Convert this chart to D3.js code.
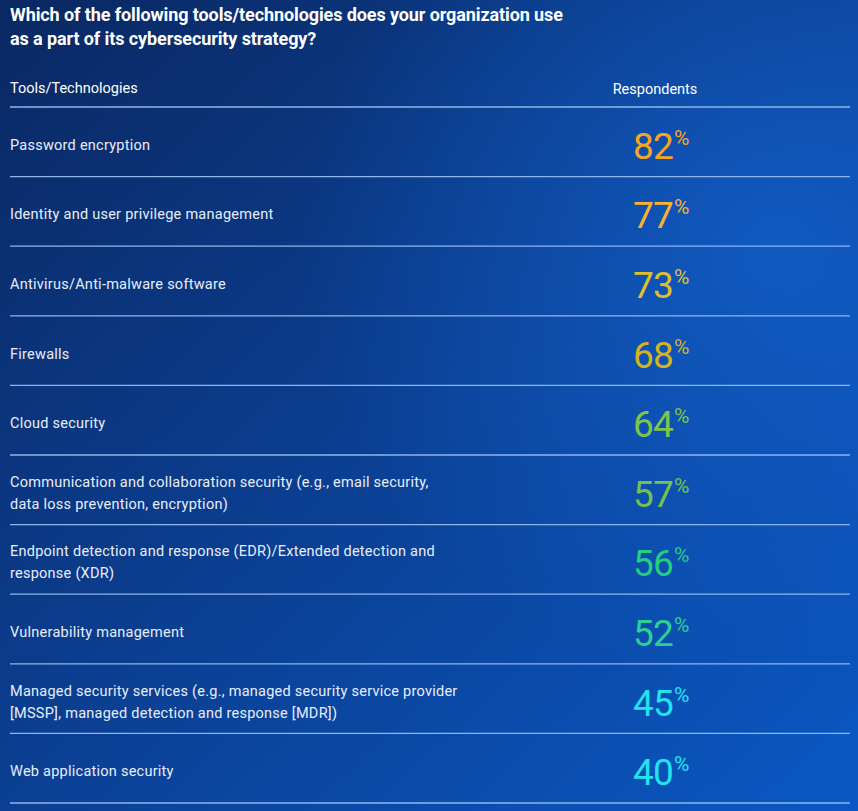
<!DOCTYPE html>
<html>
<head>
<meta charset="utf-8">
<script src="https://cdn.jsdelivr.net/npm/d3@7"></script>
<style>
  html, body { margin: 0; padding: 0; background: #0b2a6c; }
  svg { display: block; }
</style>
</head>
<body>
<svg id="chart"></svg>
<script>
var titleLines = ["Which of the following tools/technologies does your organization use",
                  "as a part of its cybersecurity strategy?"];
var colHeaders = ["Tools/Technologies", "Respondents"];

var tools = [
  ["Password encryption"],
  ["Identity and user privilege management"],
  ["Antivirus/Anti-malware software"],
  ["Firewalls"],
  ["Cloud security"],
  ["Communication and collaboration security (e.g., email security,", "data loss prevention, encryption)"],
  ["Endpoint detection and response (EDR)/Extended detection and", "response (XDR)"],
  ["Vulnerability management"],
  ["Managed security services (e.g., managed security service provider", "[MSSP], managed detection and response [MDR])"],
  ["Web application security"]
];
var respondents = [82, 77, 73, 68, 64, 57, 56, 52, 45, 40];
var numColors = ["#f5a51f", "#f8b02e", "#e0c02a", "#d5b31d", "#7dc64b", "#74c24b", "#23cf7d", "#2cd092", "#22e3f0", "#22e3ee"];

var w = 858, h = 811;
var svg = d3.select("#chart").attr("width", w).attr("height", h);

// background
var defs = svg.append("defs");
var grad = defs.append("linearGradient").attr("id", "bg")
    .attr("x1", "0%").attr("y1", "0%").attr("x2", "100%").attr("y2", "100%");
grad.append("stop").attr("offset", "0%").attr("stop-color", "#0a2862");
grad.append("stop").attr("offset", "45%").attr("stop-color", "#0b3d8e");
grad.append("stop").attr("offset", "100%").attr("stop-color", "#0a58c4");
svg.append("rect").attr("width", w).attr("height", h).attr("fill", "url(#bg)");
var glow = defs.append("radialGradient").attr("id", "glow")
    .attr("cx", "90%").attr("cy", "30%").attr("r", "55%");
glow.append("stop").attr("offset", "0%").attr("stop-color", "#1468d8").attr("stop-opacity", 0.6);
glow.append("stop").attr("offset", "100%").attr("stop-color", "#1468d8").attr("stop-opacity", 0);
svg.append("rect").attr("width", w).attr("height", h).attr("fill", "url(#glow)");

var font = "Roboto, 'Noto Sans', sans-serif";
var left = 10, right = 850;

// title
svg.append("g").selectAll("text")
  .data(titleLines)
  .enter()
  .append("text")
    .attr("x", left)
    .attr("y", function(d, i){return 21 + i*24;})
    .attr("fill", "#ffffff")
    .attr("font-family", font)
    .attr("font-weight", 700)
    .attr("font-size", 18)
    .attr("letter-spacing", -0.1)
    .text(function(d){return d;});

var numX = 653;

svg.append("text")
    .attr("x", left).attr("y", 93)
    .attr("fill", "#ffffff").attr("font-family", font).attr("font-size", 14.5)
    .text(colHeaders[0]);
svg.append("text")
    .attr("x", 655).attr("y", 94).attr("text-anchor", "middle")
    .attr("fill", "#ffffff").attr("font-family", font).attr("font-size", 14.5)
    .text(colHeaders[1]);

var y = d3.scaleBand()
    .domain(d3.range(tools.length))
    .range([107, 803]);

// separator lines
svg.append("g").selectAll("line")
  .data([-1].concat(d3.range(tools.length)))
  .enter()
  .append("line")
    .attr("x1", left).attr("x2", right)
    .attr("y1", function(d){return d < 0 ? y.range()[0] : y(d) + y.bandwidth();})
    .attr("y2", function(d){return d < 0 ? y.range()[0] : y(d) + y.bandwidth();})
    .attr("stroke", "#8fb6ea")
    .attr("stroke-width", 1.3);

var rows = svg.append("g").selectAll("g")
  .data(d3.range(tools.length))
  .enter()
  .append("g")
    .attr("transform", function(d){return `translate(0, ${y(d) + y.bandwidth()/2})`;});

rows.each(function(d){
  var lines = tools[d];
  var g = d3.select(this);
  var startY = lines.length == 1 ? 8 : -3;
  g.selectAll("text.label")
    .data(lines)
    .enter()
    .append("text")
      .attr("class", "label")
      .attr("x", left)
      .attr("y", function(t, i){return startY + i*22;})
      .attr("fill", "#e8eefa")
      .attr("font-family", font)
      .attr("font-size", 14.5)
      .attr("letter-spacing", 0.25)
      .text(function(t){return t;});
});

rows.append("text")
    .attr("x", numX).attr("y", 17).attr("text-anchor", "middle")
    .attr("fill", function(d){return numColors[d];})
    .attr("font-family", font)
    .attr("font-size", 37)
    .attr("letter-spacing", -0.8)
    .text(function(d){return respondents[d];});
rows.append("text")
    .attr("x", 674).attr("y", 3)
    .attr("fill", function(d){return numColors[d];})
    .attr("font-family", font)
    .attr("font-size", 21)
    .text("%");
</script>
</body>
</html>
